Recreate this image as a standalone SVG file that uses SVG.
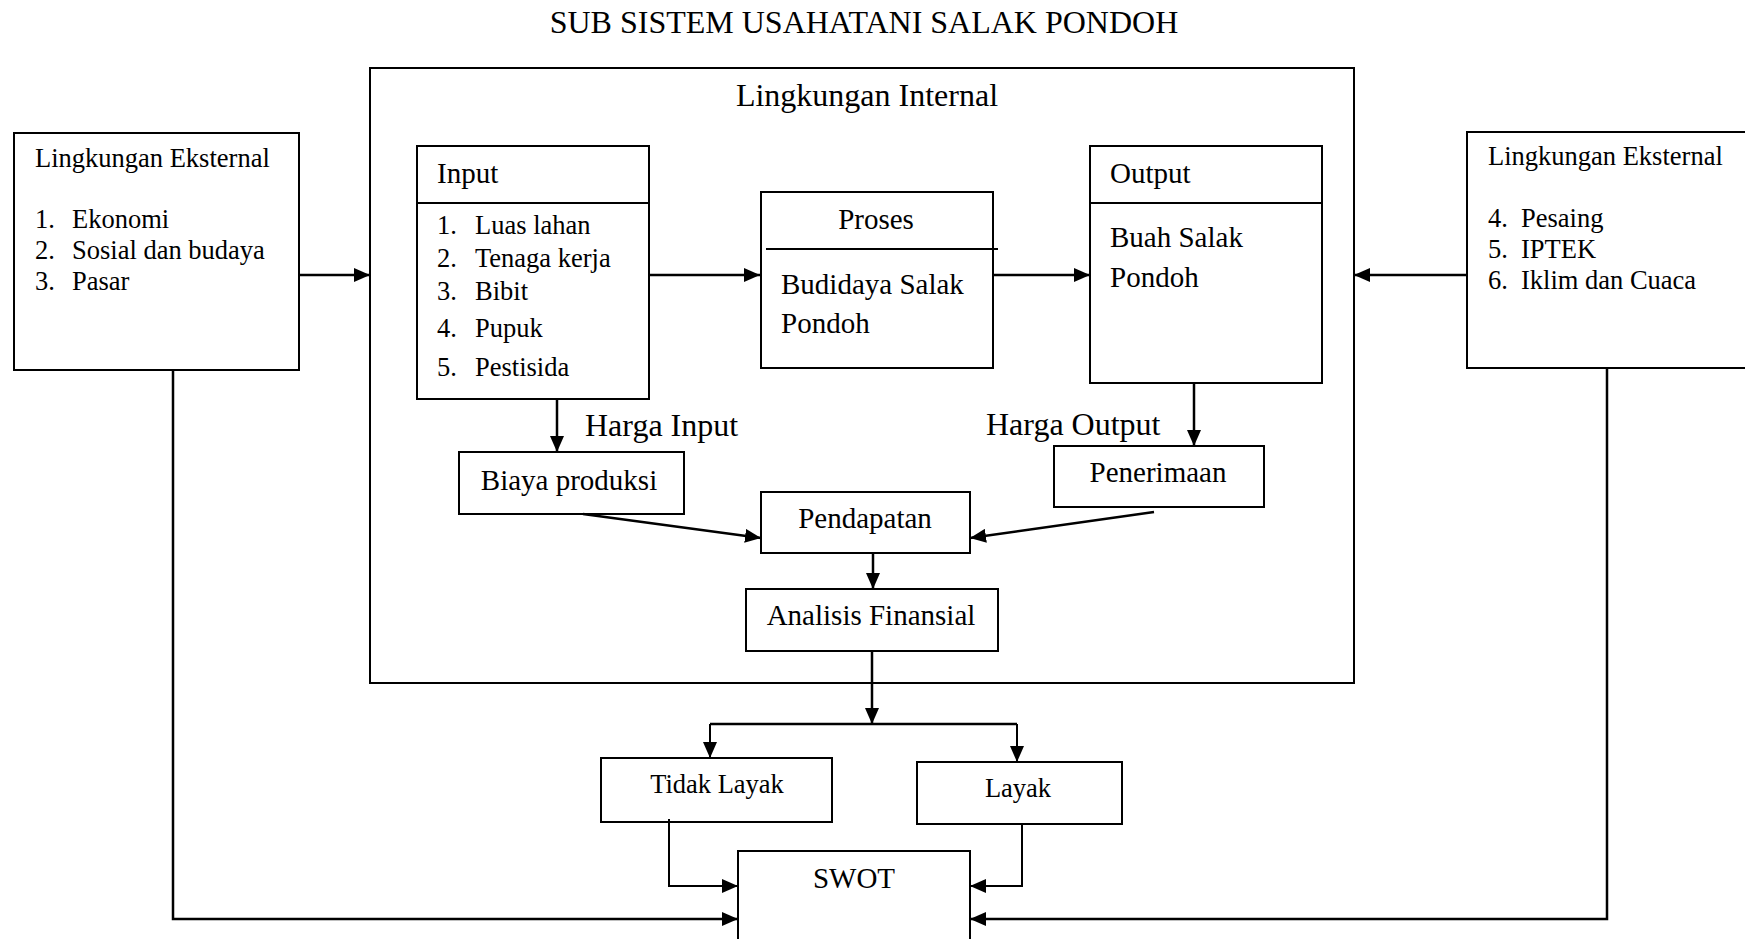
<svg xmlns="http://www.w3.org/2000/svg" width="1745" height="939" viewBox="0 0 1745 939">
<style>
text{font-family:"Liberation Serif","Times New Roman",serif;fill:#000}
.box{fill:#fff;stroke:#000;stroke-width:2}
.ln{fill:none;stroke:#000;stroke-width:2.5}
.ln2{fill:none;stroke:#000;stroke-width:2}
.f32{font-size:32px}
.f29{font-size:29px}
.f26{font-size:26.5px}
.mid{text-anchor:middle}
</style>
<defs>
<marker id="ah" markerWidth="16" markerHeight="14" refX="16" refY="7" orient="auto" markerUnits="userSpaceOnUse"><path d="M0,0 L16,7 L0,14 z" fill="#000"/></marker>
</defs>
<rect width="1745" height="939" fill="#fff"/>
<text id="title" class="f32 mid" x="864" y="33">SUB SISTEM USAHATANI SALAK PONDOH</text>

<g id="internal">
<rect class="box" x="370" y="68" width="984" height="615"/>
<text class="f32 mid" x="867" y="106">Lingkungan Internal</text>
</g>

<g id="ext-left">
<rect class="box" x="14" y="133" width="285" height="237"/>
<text class="f26" x="35" y="167">Lingkungan Eksternal</text>
<text class="f26" x="35" y="228">1.</text><text class="f26" x="72" y="228">Ekonomi</text>
<text class="f26" x="35" y="259">2.</text><text class="f26" x="72" y="259">Sosial dan budaya</text>
<text class="f26" x="35" y="290">3.</text><text class="f26" x="72" y="290">Pasar</text>
</g>

<g id="ext-right">
<rect class="box" x="1467" y="132" width="300" height="236"/>
<text class="f26" x="1488" y="165">Lingkungan Eksternal</text>
<text class="f26" x="1488" y="227">4.</text><text class="f26" x="1521" y="227">Pesaing</text>
<text class="f26" x="1488" y="258">5.</text><text class="f26" x="1521" y="258">IPTEK</text>
<text class="f26" x="1488" y="289">6.</text><text class="f26" x="1521" y="289">Iklim dan Cuaca</text>
</g>

<g id="input">
<rect class="box" x="417" y="146" width="232" height="253"/>
<line class="ln2" x1="417" y1="203" x2="649" y2="203"/>
<text class="f29" x="437" y="183">Input</text>
<text class="f26" x="437" y="234">1.</text><text class="f26" x="475" y="234">Luas lahan</text>
<text class="f26" x="437" y="267">2.</text><text class="f26" x="475" y="267">Tenaga kerja</text>
<text class="f26" x="437" y="300">3.</text><text class="f26" x="475" y="300">Bibit</text>
<text class="f26" x="437" y="337">4.</text><text class="f26" x="475" y="337">Pupuk</text>
<text class="f26" x="437" y="376">5.</text><text class="f26" x="475" y="376">Pestisida</text>
</g>

<g id="proses">
<rect class="box" x="761" y="192" width="232" height="176"/>
<line class="ln2" x1="766" y1="249" x2="998" y2="249"/>
<text class="f29 mid" x="876" y="229">Proses</text>
<text class="f29" x="781" y="294">Budidaya Salak</text>
<text class="f29" x="781" y="333">Pondoh</text>
</g>

<g id="output">
<rect class="box" x="1090" y="146" width="232" height="237"/>
<line class="ln2" x1="1090" y1="203" x2="1322" y2="203"/>
<text class="f29" x="1110" y="183">Output</text>
<text class="f29" x="1110" y="247">Buah Salak</text>
<text class="f29" x="1110" y="287">Pondoh</text>
</g>

<g id="biaya">
<rect class="box" x="459" y="452" width="225" height="62"/>
<text class="f29 mid" x="569" y="490">Biaya produksi</text>
</g>

<g id="penerimaan">
<rect class="box" x="1054" y="446" width="210" height="61"/>
<text class="f29 mid" x="1158" y="482">Penerimaan</text>
</g>

<g id="pendapatan">
<rect class="box" x="761" y="492" width="209" height="61"/>
<text class="f29 mid" x="865" y="528">Pendapatan</text>
</g>

<g id="analisis">
<rect class="box" x="746" y="589" width="252" height="62"/>
<text class="f29 mid" x="871" y="625">Analisis Finansial</text>
</g>

<g id="tidak-layak">
<rect class="box" x="601" y="758" width="231" height="64"/>
<text class="f26 mid" x="717" y="793">Tidak Layak</text>
</g>

<g id="layak">
<rect class="box" x="917" y="762" width="205" height="62"/>
<text class="f26 mid" x="1018" y="797">Layak</text>
</g>

<g id="swot">
<rect class="box" x="738" y="851" width="232" height="110"/>
<text class="f29 mid" x="854" y="888">SWOT</text>
</g>

<g id="labels">
<text class="f32" x="585" y="436">Harga Input</text>
<text class="f32" x="986" y="435">Harga Output</text>
</g>

<g id="connectors">
<line class="ln" x1="299" y1="275" x2="370" y2="275" marker-end="url(#ah)"/>
<line class="ln" x1="1467" y1="275" x2="1354" y2="275" marker-end="url(#ah)"/>
<line class="ln" x1="649" y1="275" x2="760" y2="275" marker-end="url(#ah)"/>
<line class="ln" x1="993" y1="275" x2="1090" y2="275" marker-end="url(#ah)"/>
<line class="ln" x1="557" y1="399" x2="557" y2="452" marker-end="url(#ah)"/>
<line class="ln" x1="1194" y1="383" x2="1194" y2="446" marker-end="url(#ah)"/>
<line class="ln" x1="583" y1="514" x2="761" y2="538" marker-end="url(#ah)"/>
<line class="ln" x1="1154" y1="512" x2="970" y2="538" marker-end="url(#ah)"/>
<line class="ln" x1="873" y1="553" x2="873" y2="589" marker-end="url(#ah)"/>
<line class="ln" x1="872" y1="651" x2="872" y2="724" marker-end="url(#ah)"/>
<line class="ln" x1="710" y1="724" x2="1017" y2="724"/>
<line class="ln2" x1="710" y1="724" x2="710" y2="758" marker-end="url(#ah)"/>
<line class="ln2" x1="1017" y1="724" x2="1017" y2="762" marker-end="url(#ah)"/>
<path class="ln2" d="M669,819 V886 H738" marker-end="url(#ah)"/>
<path class="ln2" d="M1022,823 V886 H970" marker-end="url(#ah)"/>
<path class="ln" d="M173,370 V919 H738" marker-end="url(#ah)"/>
<path class="ln" d="M1607,368 V919 H970" marker-end="url(#ah)"/>
</g>
</svg>
